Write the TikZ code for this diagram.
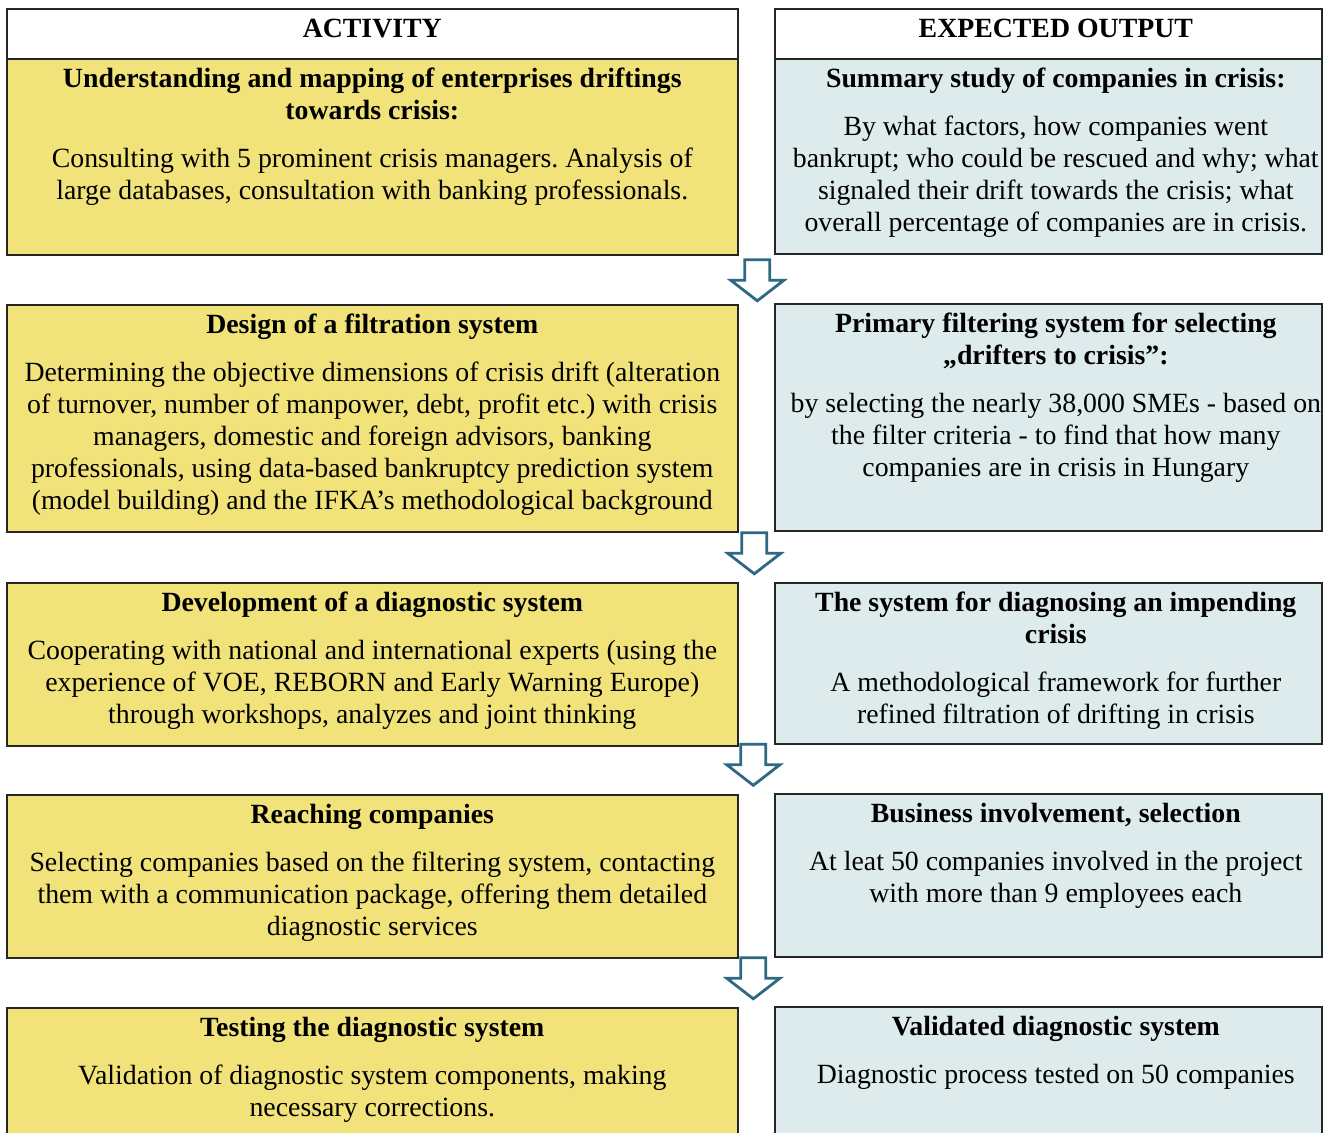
\documentclass[tikz,border=0pt]{standalone}
\usepackage{fontspec}
\setmainfont{Liberation Serif}
\usetikzlibrary{positioning,calc}
\frenchspacing

\definecolor{actyellow}{RGB}{241,227,122}
\definecolor{outblue}{RGB}{221,235,237}
\definecolor{arrowblue}{RGB}{47,104,130}

% cell texts: height, title, body
\newcommand{\actcell}[3]{\parbox[t][#1][t]{365.5pt}{\centering\strut\textbf{#2}\\[8pt]#3}}
\newcommand{\outcell}[3]{\parbox[t][#1][t]{273.5pt}{\centering\advance\leftskip 7.5pt\strut\textbf{#2}\\[8pt]#3}}

\begin{document}
\begin{tikzpicture}[x=0.5pt, y=-0.5pt, font=\fontsize{13.9}{16}\selectfont,
  cell/.style={draw=black!85, line width=0.8pt, anchor=north west, inner xsep=0pt, inner ysep=3pt},
  headbox/.style={cell, fill=white, font=\fontsize{13.9}{16}\selectfont\bfseries},
  actbox/.style={cell, fill=actyellow},
  outbox/.style={cell, fill=outblue},
  pics/downarrow/.style={code={
    \draw[arrowblue, fill=white, line width=1.4pt, line join=miter]
      (-12.5,-20.5) -- (12.5,-20.5) -- (12.5,0) -- (26.5,0) -- (0,20.5)
      -- (-26.5,0) -- (-12.5,0) -- cycle;}}]
  \useasboundingbox (0,0) rectangle (1326,1132);

  % Headers
  \node[headbox] (hdrA) at (6,8) {\parbox[t][19pt][t]{365.5pt}{\centering\strut ACTIVITY}};
  \node[headbox] (hdrB) at (774,8) {\parbox[t][19pt][t]{273.5pt}{\centering\advance\leftskip 7.5pt\strut EXPECTED OUTPUT}};

  % Activities
  \node[actbox] (act1) at (6,58) {\actcell{92pt}{Understanding and mapping of enterprises driftings\\ towards crisis:}{Consulting with 5 prominent crisis managers. Analysis of\\ large databases, consultation with banking professionals.}};
  \node[actbox] (act2) at (6,304) {\actcell{107.5pt}{Design of a filtration system}{Determining the objective dimensions of crisis drift (alteration\\ of turnover, number of manpower, debt, profit etc.) with crisis\\ managers, domestic and foreign advisors, banking\\ professionals, using data-based bankruptcy prediction system\\ (model building) and the IFKA's methodological background}};
  \node[actbox] (act3) at (6,582) {\actcell{75.5pt}{Development of a diagnostic system}{Cooperating with national and international experts (using the\\ experience of VOE, REBORN and Early Warning Europe)\\ through workshops, analyzes and joint thinking}};
  \node[actbox] (act4) at (6,794) {\actcell{75.5pt}{Reaching companies}{Selecting companies based on the filtering system, contacting\\ them with a communication package, offering them detailed\\ diagnostic services}};
  \node[actbox] (act5) at (6,1007) {\actcell{70pt}{Testing the diagnostic system}{Validation of diagnostic system components, making\\ necessary corrections.}};

  % Expected outputs
  \node[outbox] (out1) at (774,58) {\outcell{91.5pt}{Summary study of companies in crisis:}{By what factors, how companies went\\ bankrupt; who could be rescued and why; what\\ signaled their drift towards the crisis; what\\ overall percentage of companies are in crisis.}};
  \node[outbox] (out2) at (774,303) {\outcell{107.5pt}{Primary filtering system for selecting\\ „drifters to crisis”:}{by selecting the nearly 38,000 SMEs - based on\\ the filter criteria - to find that how many\\ companies are in crisis in Hungary}};
  \node[outbox] (out3) at (774,582) {\outcell{74.5pt}{The system for diagnosing an impending\\ crisis}{A methodological framework for further\\ refined filtration of drifting in crisis}};
  \node[outbox] (out4) at (774,793) {\outcell{75.5pt}{Business involvement, selection}{At leat 50 companies involved in the project\\ with more than 9 employees each}};
  \node[outbox] (out5) at (774,1006) {\outcell{70pt}{Validated diagnostic system}{Diagnostic process tested on 50 companies}};

  % Block arrows between the rows
  \pic (arr1) at ($(act1.south east)!0.5!(out2.north west)+(1,1)$) {downarrow};
  \pic (arr2) at ($(act2.south east)!0.5!(out3.north west)+(-2,-4)$) {downarrow};
  \pic (arr3) at ($(act3.south east)!0.5!(out4.north west)+(-3,-5)$) {downarrow};
  \pic (arr4) at ($(act4.south east)!0.5!(out5.north west)+(-3,-4)$) {downarrow};
\end{tikzpicture}
\end{document}
